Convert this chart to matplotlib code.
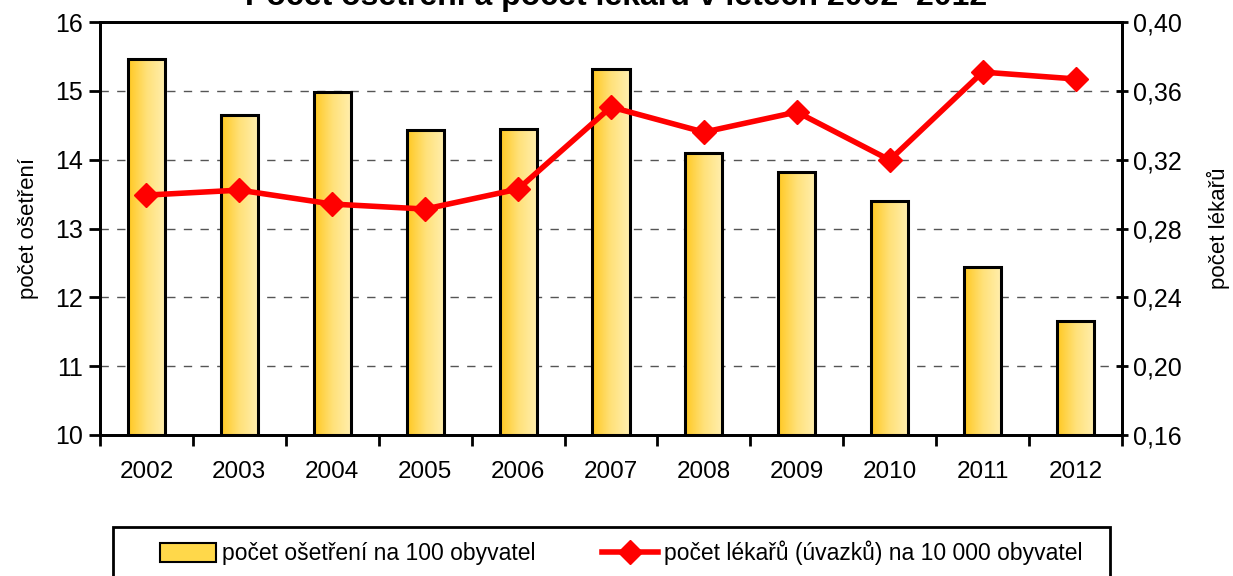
import matplotlib
matplotlib.use("Agg")
import matplotlib.pyplot as plt
import numpy as np
from matplotlib.lines import Line2D
from matplotlib.patches import Rectangle
from matplotlib.legend_handler import HandlerBase
from matplotlib.colors import LinearSegmentedColormap

plt.rcParams['font.family'] = ['Liberation Sans', 'DejaVu Sans']

years = ['2002', '2003', '2004', '2005', '2006', '2007', '2008', '2009', '2010', '2011', '2012']
treatments = [15.46, 14.65, 14.98, 14.43, 14.44, 15.32, 14.10, 13.82, 13.40, 12.44, 11.65]
doctors = [0.2994, 0.3023, 0.2942, 0.2913, 0.3029, 0.3506, 0.3360, 0.3477, 0.3198, 0.3709, 0.3669]
left_ticks = [10, 11, 12, 13, 14, 15, 16]
right_ticks = [0.16, 0.20, 0.24, 0.28, 0.32, 0.36, 0.40]

W, H = 1233, 576
fig = plt.figure(figsize=(W/100, H/100), dpi=100)
ax = fig.add_axes([100/W, 1-435/H, (1122-100)/W, (435-22)/H])
ax2 = ax.twinx()

x = np.arange(len(years))
width = 0.4
grad = np.linspace(0, 1, 256).reshape(1, -1)
cmap = LinearSegmentedColormap.from_list('g', ['#FFC820', '#FFE17A', '#FFEFB0'])

ax.set_xlim(-0.5, len(years) - 0.5)
ax.set_ylim(10, 16)
for xi, v in zip(x, treatments):
    im = ax.imshow(grad, extent=(xi - width/2, xi + width/2, 10, v), cmap=cmap,
                   aspect='auto', zorder=2, interpolation='bicubic')
    r = Rectangle((xi - width/2, 10), width, v - 10, fill=False, edgecolor='black', lw=2.2, zorder=3)
    ax.add_patch(r)
    im.set_clip_path(r)
ax.set_xlim(-0.5, len(years) - 0.5)
ax.set_ylim(10, 16)

for t in left_ticks[1:-1]:
    ax.axhline(t, color='#555555', lw=1, ls=(0, (6, 6)), zorder=1)

ax2.plot(x, doctors, color='#FF0000', lw=4, marker='D', markersize=12, zorder=5)
ax2.set_ylim(0.16, 0.40)
ax2.set_yticks(right_ticks)
ax2.set_yticklabels([f"{t:.2f}".replace('.', ',') for t in right_ticks])

ax.set_yticks(left_ticks)
ax.set_yticklabels([str(t) for t in left_ticks])
ax.set_xticks(np.arange(-0.5, len(years)))
ax.set_xticklabels([])
ax.set_xticks(x, minor=True)
ax.set_xticklabels(years, minor=True)
ax.tick_params(axis='x', which='minor', length=0, pad=19, labelsize=17.5)
ax.tick_params(axis='x', which='major', length=8, width=2, direction='out')
ax.tick_params(axis='y', length=8, width=2, direction='out', labelsize=18, pad=4)
ax2.tick_params(axis='y', length=8, width=2, direction='inout', labelsize=18, pad=4)

for a in (ax, ax2):
    for s in a.spines.values():
        s.set_linewidth(2)
ax.set_ylabel('počet ošetření', fontsize=16, labelpad=12)
ax2.set_ylabel('počet lékařů', fontsize=16, labelpad=18)
ax.set_zorder(ax2.get_zorder() - 1)
ax2.patch.set_visible(False)

fig.text(0.5, 1 - 5/H, 'Počet ošetření a počet lékařů v letech 2002–2012', ha='center',
         va='baseline', fontsize=23, fontweight='bold')

class GradHandler(HandlerBase):
    def create_artists(self, legend, orig, xd, yd, w, h, fontsize, trans):
        r = Rectangle((xd, yd - 1), w, h + 2, transform=trans, facecolor='#FFD84A', edgecolor='black', lw=1.5)
        return [r]

# legend frame
fig.patches.append(Rectangle((113/W, -0.05), (1110-113)/W, (1 - 527/H) + 0.05,
                             transform=fig.transFigure, fill=False, edgecolor='black', lw=2))

bar_proxy = Rectangle((0, 0), 1, 1)
line_proxy = Line2D([], [], color='#FF0000', lw=4, marker='D', markersize=12)
leg = fig.legend([bar_proxy, line_proxy],
                 ['počet ošetření na 100 obyvatel', 'počet lékařů (úvazků) na 10 000 obyvatel'],
                 handler_map={bar_proxy: GradHandler()},
                 loc='center left', bbox_to_anchor=(160/W, 1 - 553/H), ncol=2,
                 fontsize=16.5, frameon=False, borderpad=0, borderaxespad=0,
                 handlelength=2.45, handletextpad=0.25, columnspacing=2.9)

fig.savefig('out.png', dpi=100)
